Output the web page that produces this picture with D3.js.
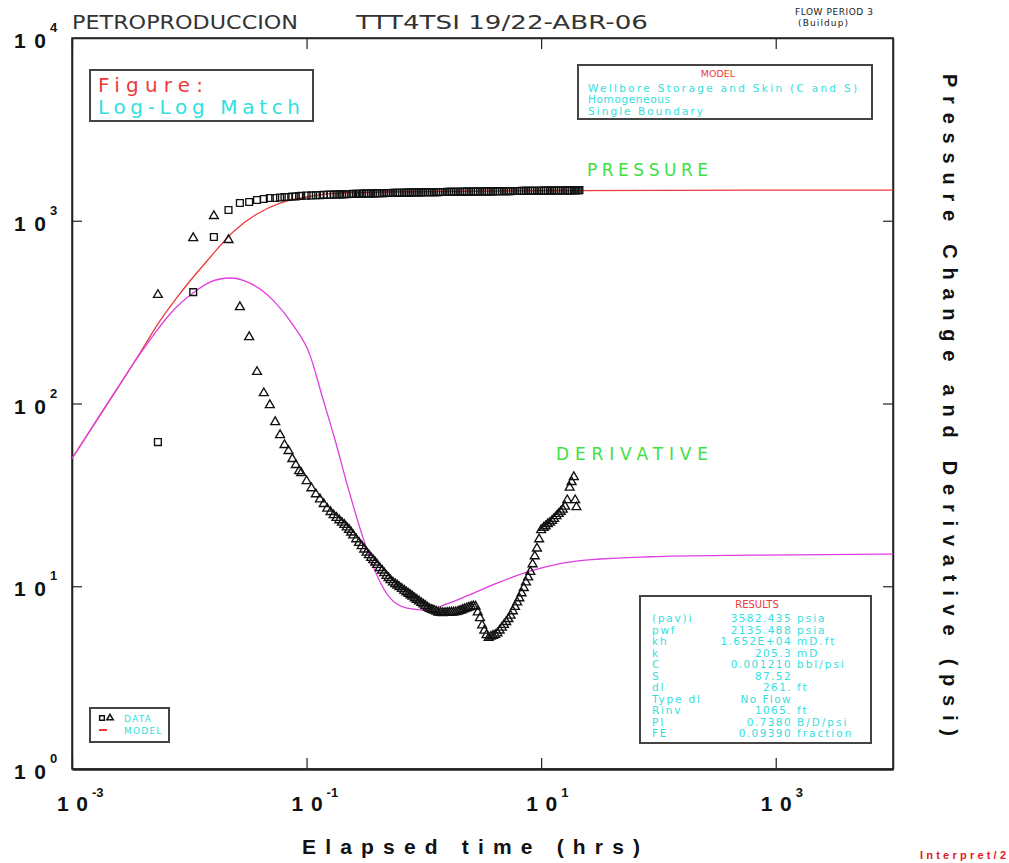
<!DOCTYPE html>
<html>
<head>
<meta charset="utf-8">
<script src="https://cdn.jsdelivr.net/npm/d3@7"></script>
<style>
  body { margin: 0; background: #fff; }
  svg { display: block; }
</style>
</head>
<body>
<svg id="chart" width="1009" height="863"></svg>
<script>
// ---- Buildup data: elapsed time (hrs), pressure change and Bourdet derivative (psi)
const timeHrs = [
  0.0054, 0.0108, 0.0162, 0.0216, 0.027, 0.0324, 0.0378, 0.0432, 0.0486, 0.054,
  0.0594, 0.0648, 0.0702, 0.0756, 0.081, 0.0864,
  0.09, 0.1, 0.11, 0.12, 0.13, 0.14, 0.15,
  0.16, 0.17, 0.18, 0.19, 0.20, 0.21, 0.22, 0.23, 0.24, 0.25,
  0.265, 0.28, 0.295, 0.31, 0.325, 0.34, 0.355, 0.37, 0.385, 0.4,
  0.42, 0.44, 0.46, 0.48, 0.50, 0.52, 0.545, 0.57, 0.595, 0.62,
  0.65, 0.68, 0.71, 0.74, 0.77, 0.8, 0.835, 0.87, 0.91, 0.95,
  0.99, 1.03, 1.075, 1.12, 1.17, 1.22, 1.275, 1.33, 1.39, 1.45,
  1.515, 1.58, 1.65, 1.72, 1.795, 1.87, 1.955, 2.04, 2.13, 2.22,
  2.32, 2.42, 2.53, 2.64, 2.76, 2.88, 3.01, 3.14, 3.28, 3.42,
  3.57, 3.73, 3.89, 4.06, 4.24, 4.43, 4.63, 4.83, 5.04, 5.26,
  5.49, 5.74, 5.99, 6.25, 6.52, 6.81, 7.11, 7.42, 7.75, 8.09,
  8.45, 8.82, 9.21, 9.61, 10.0, 10.5, 10.9, 11.4, 11.9, 12.4,
  12.9, 13.5, 14.1, 14.7, 15.3, 16.0, 16.7, 17.5, 18.2, 19.0,
  19.5, 20.0, 20.6, 21.2
];
const deltaP = [
  61.5, 407, 815, 1145, 1251, 1266, 1299, 1315, 1332, 1332,
  1341, 1349, 1349, 1357, 1357, 1366,
  1370, 1373, 1376, 1379, 1382, 1385, 1388,
  1389, 1391, 1392, 1394, 1395, 1397, 1398, 1400, 1401, 1402,
  1404, 1405, 1407, 1408, 1409, 1410, 1411, 1412, 1413, 1414,
  1415, 1416, 1417, 1418, 1418, 1419, 1420, 1421, 1421, 1422,
  1423, 1424, 1425, 1425, 1426, 1427, 1428, 1428, 1429, 1430,
  1431, 1431, 1432, 1433, 1433, 1434, 1435, 1435, 1436, 1437,
  1437, 1438, 1438, 1439, 1440, 1440, 1441, 1441, 1442, 1443,
  1443, 1444, 1444, 1445, 1445, 1446, 1446, 1447, 1447, 1448,
  1448, 1449, 1449, 1450, 1450, 1451, 1451, 1452, 1452, 1453,
  1453, 1454, 1454, 1455, 1455, 1456, 1456, 1457, 1457, 1458,
  1458, 1459, 1459, 1460, 1460, 1461, 1461, 1462, 1462, 1463,
  1463, 1464, 1464, 1465, 1465, 1466, 1466, 1467, 1467, 1468,
  1468, 1469, 1469, 1470
];
const derivP = [
  393, 804, 1062, 785, 337, 231, 149, 114, 98.1, 79.2,
  67.2, 59.3, 55.0, 49.7, 46.1, 42.7,
  41.7, 37.6, 34.4, 31.9, 29.9, 28.2, 26.6,
  25.5, 24.5, 23.7, 23.0, 22.3, 21.7, 21.0, 20.4, 19.7, 19.0,
  18.1, 17.3, 16.6, 15.9, 15.3, 14.8, 14.3, 13.9, 13.5, 13.1,
  12.6, 12.2, 11.8, 11.4, 11.1, 10.8, 10.5, 10.3, 10.1, 9.89,
  9.68, 9.47, 9.28, 9.10, 8.94, 8.78, 8.60, 8.44, 8.27, 8.11,
  7.96, 7.82, 7.66, 7.52, 7.44, 7.36, 7.27, 7.19, 7.16, 7.14,
  7.15, 7.17, 7.18, 7.19, 7.20, 7.22, 7.28, 7.34, 7.42, 7.50,
  7.58, 7.66, 7.72, 7.77, 7.75, 7.20, 6.70, 6.11, 5.72, 5.41,
  5.23, 5.30, 5.36, 5.42, 5.53, 5.73, 5.94, 6.15, 6.38, 6.62,
  6.91, 7.30, 7.72, 8.16, 8.60, 9.16, 9.79, 10.5, 11.2, 12.0,
  13.2, 14.6, 16.1, 18.1, 20.3, 20.9, 21.3, 21.9, 22.3, 22.8,
  23.4, 24.2, 24.9, 25.6, 26.3, 27.3, 29.6, 34.7, 37.2, 39.6,
  29.6, 27.1, null, null
];

// ---- Model response (wellbore storage & skin, homogeneous, single boundary)
const modelPTime = [0.001, 0.0038, 0.00562, 0.00755, 0.01014, 0.01416, 0.0236, 0.0378, 0.0593, 0.1007, 0.193, 1, 10, 100, 10000];
const modelP     = [50, 189, 283, 368, 468, 602, 868, 1089, 1250, 1349, 1419, 1445, 1460, 1468, 1472];
const modelDTime = [0.001, 0.002566, 0.0038, 0.0051, 0.00685, 0.01076, 0.01502, 0.0222, 0.0329, 0.0517, 0.0766, 0.107, 0.135,
                    0.175, 0.225, 0.303, 0.398, 0.514, 0.718, 1.06, 1.57, 2.33, 4.20, 8.02, 15.3, 31.7, 84.7, 603, 10000];
const modelD     = [50, 127.8, 186.6, 243, 309, 402, 462, 486, 456, 368, 269, 184, 111,
                    63.1, 34.9, 18.4, 11.5, 8.63, 7.60, 7.41, 8.0, 8.85, 10.4, 12.1, 13.4, 14.1, 14.5, 14.8, 15.0];

// ---- Axis ticks
const xTickValues = [1e-3, 1e-1, 1e1, 1e3];
const xTickExp = ["-3", "-1", "1", "3"];
const yTickValues = [1, 10, 100, 1000, 10000];
const yTickExp = ["0", "1", "2", "3", "4"];

// ---- Annotation texts
const modelLines = ["Wellbore Storage and Skin (C and S)", "Homogeneous", "Single Boundary"];
const modelLineWidths = [269, 82, 115];
const resultLabels = ["(pav)i", "pwf", "kh", "k", "C", "S", "dl", "Type dl", "Rinv", "PI", "FE"];
const resultValues = ["3582.435", "2135.488", "1.652E+04", "205.3", "0.001210", "87.52", "261.", "No Flow", "1065.", "0.7380", "0.09390"];
const resultUnits  = ["psia", "psia", "mD.ft", "mD", "bbl/psi", "", "ft", "", "ft", "B/D/psi", "fraction"];

const RED = "#ec3a3a", CYAN = "#33dede", GREEN = "#3ee03e", MAGENTA = "#e03de0";

const svg = d3.select("#chart");
svg.append("rect").attr("width", 1009).attr("height", 863).attr("fill", "#fff");

const x = d3.scaleLog().domain([1e-3, 1e4]).range([72, 893]);
const y = d3.scaleLog().domain([1, 1e4]).range([769, 38]);
const X0 = 72, X1 = 893, Y0 = 38, Y1 = 769;

// ---- Frame and inward ticks
svg.append("rect").attr("x", X0).attr("y", Y0).attr("width", X1 - X0).attr("height", Y1 - Y0)
  .attr("fill", "none").attr("stroke", "#222").attr("stroke-width", 1.5);

function styleAxis(g, w) {
  g.selectAll("path.domain").attr("stroke", "#222").attr("stroke-width", w);
  g.selectAll(".tick line").attr("stroke", "#222").attr("stroke-width", 1.2);
  g.selectAll(".tick text").remove();
}
svg.append("g").attr("transform", `translate(0,${Y1})`)
  .call(d3.axisBottom(x).tickValues(xTickValues).tickSizeInner(-11).tickSizeOuter(0).tickFormat(() => ""))
  .call(g => styleAxis(g, 2.6));
svg.append("g").attr("transform", `translate(0,${Y0})`)
  .call(d3.axisTop(x).tickValues(xTickValues).tickSizeInner(-11).tickSizeOuter(0).tickFormat(() => ""))
  .call(g => styleAxis(g, 1.5));
svg.append("g").attr("transform", `translate(${X0},0)`)
  .call(d3.axisLeft(y).tickValues([10, 100, 1000]).tickSizeInner(-10).tickSizeOuter(0).tickFormat(() => ""))
  .call(g => styleAxis(g, 1.6));
svg.append("g").attr("transform", `translate(${X1},0)`)
  .call(d3.axisRight(y).tickValues([10, 100, 1000]).tickSizeInner(-10).tickSizeOuter(0).tickFormat(() => ""))
  .call(g => styleAxis(g, 1.5));

// ---- Tick labels as powers of ten
const tickFont = "'Liberation Sans', Arial, sans-serif";
xTickValues.forEach((v, i) => {
  const cx = x(v);
  svg.append("text").attr("x", cx - 15).attr("y", Y1 + 42).text("10")
    .attr("font-family", tickFont).attr("font-weight", "bold").attr("font-size", 21)
    .attr("textLength", 31).attr("lengthAdjust", "spacing").attr("fill", "#111");
  svg.append("text").attr("x", cx + 20).attr("y", Y1 + 28).text(xTickExp[i])
    .attr("font-family", tickFont).attr("font-weight", "bold").attr("font-size", 13).attr("fill", "#111");
});
yTickValues.forEach((v, i) => {
  const cy = y(v);
  svg.append("text").attr("x", 14).attr("y", cy + 10).text("10")
    .attr("font-family", tickFont).attr("font-weight", "bold").attr("font-size", 21)
    .attr("textLength", 32).attr("lengthAdjust", "spacing").attr("fill", "#111");
  svg.append("text").attr("x", 50).attr("y", cy - 6).text(yTickExp[i])
    .attr("font-family", tickFont).attr("font-weight", "bold").attr("font-size", 13).attr("fill", "#111");
});

// ---- Axis titles
svg.append("text").attr("x", 302).attr("y", 854).text("Elapsed time (hrs)")
  .attr("font-family", tickFont).attr("font-weight", "bold").attr("font-size", 21)
  .attr("textLength", 338).attr("lengthAdjust", "spacing").attr("fill", "#111");
svg.append("text").attr("transform", "translate(943,74) rotate(90)").text("Pressure Change and Derivative (psi)")
  .attr("font-family", tickFont).attr("font-weight", "bold").attr("font-size", 20)
  .attr("textLength", 662).attr("lengthAdjust", "spacing").attr("fill", "#111");

// ---- Header
const plotFont = "'DejaVu Sans', 'Liberation Sans', sans-serif";
svg.append("text").attr("x", 72).attr("y", 29).text("PETROPRODUCCION")
  .attr("font-family", plotFont).attr("font-size", 20).attr("fill", "#333")
  .attr("textLength", 226).attr("lengthAdjust", "spacingAndGlyphs");
svg.append("text").attr("x", 356).attr("y", 29).text("TTT4TSI 19/22-ABR-06")
  .attr("font-family", plotFont).attr("font-size", 20).attr("fill", "#333")
  .attr("textLength", 292).attr("lengthAdjust", "spacingAndGlyphs");
svg.append("text").attr("x", 795).attr("y", 15).text("FLOW PERIOD 3")
  .attr("font-family", plotFont).attr("font-size", 9).attr("fill", "#222")
  .attr("textLength", 78).attr("lengthAdjust", "spacing");
svg.append("text").attr("x", 798).attr("y", 26).text("(Buildup)")
  .attr("font-family", plotFont).attr("font-size", 9).attr("fill", "#222")
  .attr("textLength", 50).attr("lengthAdjust", "spacing");
svg.append("text").attr("x", 920).attr("y", 859).text("Interpret/2")
  .attr("font-family", tickFont).attr("font-weight", "bold").attr("font-size", 11).attr("fill", "#e02020")
  .attr("textLength", 86).attr("lengthAdjust", "spacing");

// ---- Model curves
const line = d3.line().x(d => x(d[0])).y(d => y(d[1])).curve(d3.curveMonotoneX);
svg.append("path").datum(modelPTime.map((t, i) => [t, modelP[i]]))
  .attr("d", line).attr("fill", "none").attr("stroke", RED).attr("stroke-width", 1.3);
svg.append("path").datum(modelDTime.map((t, i) => [t, modelD[i]]))
  .attr("d", line).attr("fill", "none").attr("stroke", MAGENTA).attr("stroke-width", 1.3);

// ---- Data markers
const square = d3.symbol(d3.symbolSquare, 46);
const triangle = d3.symbol(d3.symbolTriangle, 34);
svg.append("g").selectAll("path").data(timeHrs.map((t, i) => [t, deltaP[i]]))
  .join("path").attr("d", square)
  .attr("transform", d => `translate(${x(d[0])},${y(d[1])})`)
  .attr("fill", "none").attr("stroke", "#111").attr("stroke-width", 1.35);
svg.append("g").selectAll("path").data(timeHrs.map((t, i) => [t, derivP[i]]).filter(d => d[1] != null))
  .join("path").attr("d", triangle)
  .attr("transform", d => `translate(${x(d[0])},${y(d[1])})`)
  .attr("fill", "none").attr("stroke", "#111").attr("stroke-width", 1.35);

// ---- Curve labels
svg.append("text").attr("x", 587).attr("y", 176).text("PRESSURE")
  .attr("font-family", plotFont).attr("font-size", 17).attr("fill", GREEN)
  .attr("textLength", 121).attr("lengthAdjust", "spacing");
svg.append("text").attr("x", 556).attr("y", 460).text("DERIVATIVE")
  .attr("font-family", plotFont).attr("font-size", 17).attr("fill", GREEN)
  .attr("textLength", 152).attr("lengthAdjust", "spacing");

// ---- Figure box
svg.append("rect").attr("x", 90).attr("y", 70).attr("width", 223).attr("height", 51)
  .attr("fill", "#fff").attr("stroke", "#444").attr("stroke-width", 2);
svg.append("text").attr("x", 98).attr("y", 92).text("Figure:")
  .attr("font-family", plotFont).attr("font-size", 20).attr("fill", RED)
  .attr("textLength", 105).attr("lengthAdjust", "spacing");
svg.append("text").attr("x", 98).attr("y", 114).text("Log-Log Match")
  .attr("font-family", plotFont).attr("font-size", 20).attr("fill", CYAN)
  .attr("textLength", 202).attr("lengthAdjust", "spacing");

// ---- Model description box
svg.append("rect").attr("x", 578).attr("y", 65).attr("width", 294).attr("height", 54)
  .attr("fill", "#fff").attr("stroke", "#444").attr("stroke-width", 2);
svg.append("text").attr("x", 718).attr("y", 77).attr("text-anchor", "middle").text("MODEL")
  .attr("font-family", plotFont).attr("font-size", 9.5).attr("fill", RED);
modelLines.forEach((s, i) => {
  svg.append("text").attr("x", 588).attr("y", 92 + i * 11.3).text(s)
    .attr("font-family", plotFont).attr("font-size", 10.5).attr("fill", CYAN)
    .attr("textLength", modelLineWidths[i]).attr("lengthAdjust", "spacing");
});

// ---- Results box
svg.append("rect").attr("x", 640).attr("y", 596).attr("width", 231).attr("height", 147)
  .attr("fill", "#fff").attr("stroke", "#444").attr("stroke-width", 2);
svg.append("text").attr("x", 757).attr("y", 608).attr("text-anchor", "middle").text("RESULTS")
  .attr("font-family", plotFont).attr("font-size", 10).attr("fill", RED);
resultLabels.forEach((s, i) => {
  const by = 622 + i * 11.5;
  svg.append("text").attr("x", 652).attr("y", by).text(s)
    .attr("font-family", plotFont).attr("font-size", 10.5).attr("letter-spacing", 1.8).attr("fill", CYAN);
  svg.append("text").attr("x", 792).attr("y", by).attr("text-anchor", "end").text(resultValues[i])
    .attr("font-family", plotFont).attr("font-size", 10.5).attr("letter-spacing", 1.4).attr("fill", CYAN);
  svg.append("text").attr("x", 797).attr("y", by).text(resultUnits[i])
    .attr("font-family", plotFont).attr("font-size", 10.5).attr("letter-spacing", 2).attr("fill", CYAN);
});

// ---- Data / model key
svg.append("rect").attr("x", 90).attr("y", 708).attr("width", 79).attr("height", 34)
  .attr("fill", "#fff").attr("stroke", "#444").attr("stroke-width", 2);
svg.append("path").attr("d", d3.symbol(d3.symbolSquare, 22)).attr("transform", "translate(102,718)")
  .attr("fill", "none").attr("stroke", "#111").attr("stroke-width", 1.5);
svg.append("path").attr("d", d3.symbol(d3.symbolTriangle, 18)).attr("transform", "translate(110,718)")
  .attr("fill", "none").attr("stroke", "#111").attr("stroke-width", 1.5);
svg.append("text").attr("x", 124).attr("y", 722).text("DATA")
  .attr("font-family", plotFont).attr("font-size", 9).attr("letter-spacing", 1.2).attr("fill", CYAN);
svg.append("line").attr("x1", 99).attr("x2", 107).attr("y1", 730).attr("y2", 730)
  .attr("stroke", RED).attr("stroke-width", 2);
svg.append("text").attr("x", 124).attr("y", 734).text("MODEL")
  .attr("font-family", plotFont).attr("font-size", 9).attr("letter-spacing", 1.2).attr("fill", CYAN);
</script>
</body>
</html>
